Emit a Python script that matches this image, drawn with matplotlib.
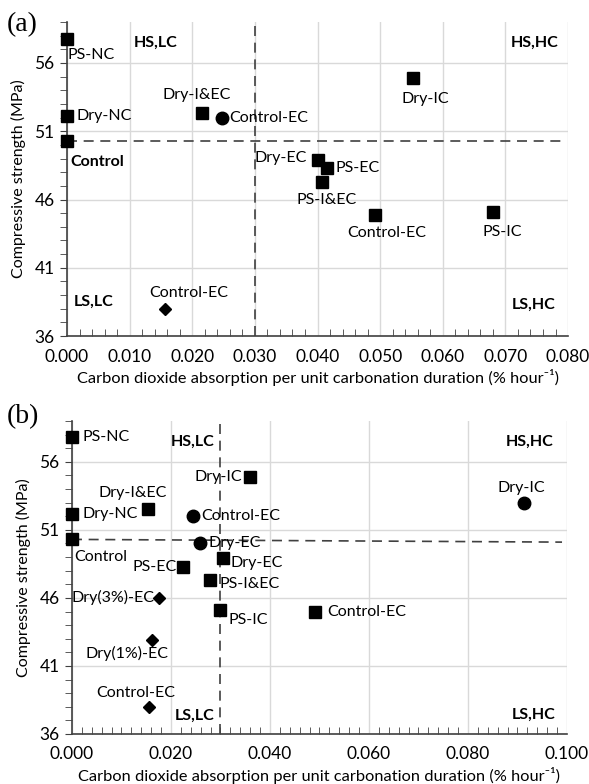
import numpy as np
import matplotlib.pyplot as plt
from matplotlib.ticker import MultipleLocator, FormatStrFormatter

plt.rcParams['font.family'] = ['Lato', 'DejaVu Sans']

# panel (a) data
a_x = [0.0, 0.0, 0.0, 0.0216, 0.0247, 0.0553, 0.0401, 0.0415, 0.0407, 0.0492, 0.0680, 0.0157]
a_y = [57.75, 52.1, 50.3, 52.3, 52.0, 54.9, 48.9, 48.3, 47.3, 44.9, 45.1, 38.0]
a_lab = ['PS-NC', 'Dry-NC', 'Control', 'Dry-I&EC', 'Control-EC', 'Dry-IC', 'Dry-EC',
         'PS-EC', 'PS-I&EC', 'Control-EC', 'PS-IC', 'Control-EC']
a_mark = ['s', 's', 's', 's', 'o', 's', 's', 's', 's', 's', 's', 'D']

# panel (b) data
b_x = [0.0, 0.0, 0.0, 0.0153, 0.0245, 0.0360, 0.0259, 0.0305, 0.0225, 0.0279, 0.0299,
       0.0176, 0.0162, 0.0156, 0.0491, 0.0913]
b_y = [57.8, 52.2, 50.3, 52.5, 52.0, 54.9, 50.0, 48.9, 48.3, 47.3, 45.1,
       46.0, 42.9, 38.0, 45.0, 53.0]
b_lab = ['PS-NC', 'Dry-NC', 'Control', 'Dry-I&EC', 'Control-EC', 'Dry-IC', 'Dry-EC',
         'Dry-EC', 'PS-EC', 'PS-I&EC', 'PS-IC', 'Dry(3%)-EC', 'Dry(1%)-EC',
         'Control-EC', 'Control-EC', 'Dry-IC']
b_mark = ['s', 's', 's', 's', 'o', 's', 'o', 's', 's', 's', 's', 'D', 'D', 'D', 's', 'o']

# threshold lines
a_vline = 0.030
a_hline = [50.3, 50.3]
b_vline = 0.030
b_hline = [50.3, 50.1]

# label offsets in pixels (dx, dy, ha)
a_off = [(0, -16, 'left'), (9, 0, 'left'), (3, -21, 'left'), (-6, 18, 'center'),
         (8, 0, 'left'), (12, -21, 'center'), (-11, 2, 'right'), (9, 0, 'left'),
         (5, -18, 'center'), (12, -18, 'center'), (9, -20, 'center'), (23, 16, 'center')]
b_off = [(11, 0, 'left'), (11, 0, 'left'), (2, -18, 'left'), (-15, 16, 'center'),
         (8, 0, 'left'), (-8, 0, 'right'), (8, 0, 'left'), (8, -5, 'left'),
         (-7, 0, 'right'), (9, -4, 'left'), (9, -10, 'left'), (-5, 0, 'right'),
         (-25, -13, 'center'), (-13, 14, 'center'), (12, 0, 'left'), (-3, 15, 'center')]

a_quad = [(0.0142, 57.5, 'HS,LC', 'center'), (0.0784, 57.5, 'HS,HC', 'right'),
          (0.0043, 38.5, 'LS,LC', 'center'), (0.0780, 38.3, 'LS,HC', 'right')]
b_quad = [(0.0244, 57.5, 'HS,LC', 'center'), (0.0972, 57.5, 'HS,HC', 'right'),
          (0.0247, 37.3, 'LS,LC', 'center'), (0.0976, 37.4, 'LS,HC', 'right')]

msize = {'s': 8.5, 'o': 9, 'D': 6.5}
XLABEL = 'Carbon dioxide absorption per unit carbonation duration (% hour\u207b\u00b9)'


def draw_panel(ax, xs, ys, labs, marks, offs, quads, vline, hline, xmax, xmaj, bold_control):
    ax.set_xlim(0, xmax)
    ax.set_ylim(36, 59)
    ax.xaxis.set_major_locator(MultipleLocator(xmaj))
    ax.xaxis.set_minor_locator(MultipleLocator(0.002))
    ax.yaxis.set_minor_locator(MultipleLocator(1))
    ax.set_yticks([36, 41, 46, 51, 56])
    ax.xaxis.set_major_formatter(FormatStrFormatter('%.3f'))
    ax.grid(True, which='major', color='#d9d9d9', lw=1)
    ax.set_axisbelow(True)
    for s in ['top', 'right']:
        ax.spines[s].set_visible(False)
    for s in ['left', 'bottom']:
        ax.spines[s].set_color('#404040')
        ax.spines[s].set_linewidth(1.2)
    ax.tick_params(axis='x', which='both', direction='in', length=5, color='#404040',
                   labelsize=12.5, pad=9)
    ax.tick_params(axis='y', which='both', direction='out', length=5, color='#404040',
                   labelsize=12.5, pad=4)
    ax.tick_params(axis='x', which='major', length=0)

    ax.axvline(vline, color='#404040', ls=(0, (6, 4)), lw=1.2, zorder=2)
    ax.plot([0, xmax * 0.99], hline, color='#404040', ls=(0, (6, 4)), lw=1.2, zorder=2)

    for x, y, lab, m, (dx, dy, ha) in zip(xs, ys, labs, marks, offs):
        ax.plot(x, y, marker=m, color='black', ms=msize[m], ls='none', zorder=3,
                clip_on=False)
        weight = 'bold' if (lab == 'Control' and bold_control) else 'normal'
        ax.annotate(lab, (x, y), xytext=(dx, dy), textcoords='offset pixels',
                    ha=ha, va='center', fontsize=11.5, fontweight=weight, zorder=4)
    for x, y, t, ha in quads:
        ax.text(x, y, t, ha=ha, va='center', fontsize=11.5, fontweight='bold')

    ax.set_ylabel('Compressive strength (MPa)', fontsize=11.5, labelpad=6)
    ax.set_xlabel(XLABEL, fontsize=11.8, labelpad=3)


fig = plt.figure(figsize=(5.89, 7.84), dpi=100)
ax1 = fig.add_axes([0.1138, 0.5714, 0.8506, 0.4005])
ax2 = fig.add_axes([0.1222, 0.0638, 0.8404, 0.3992])

draw_panel(ax1, a_x, a_y, a_lab, a_mark, a_off, a_quad, a_vline, a_hline, 0.080, 0.010, True)
draw_panel(ax2, b_x, b_y, b_lab, b_mark, b_off, b_quad, b_vline, b_hline, 0.100, 0.020, False)

fig.text(0.012, 0.968, '(a)', fontsize=20, family='Liberation Serif', va='center')
fig.text(0.012, 0.468, '(b)', fontsize=20, family='Liberation Serif', va='center')

fig.savefig('out.png', dpi=100)
